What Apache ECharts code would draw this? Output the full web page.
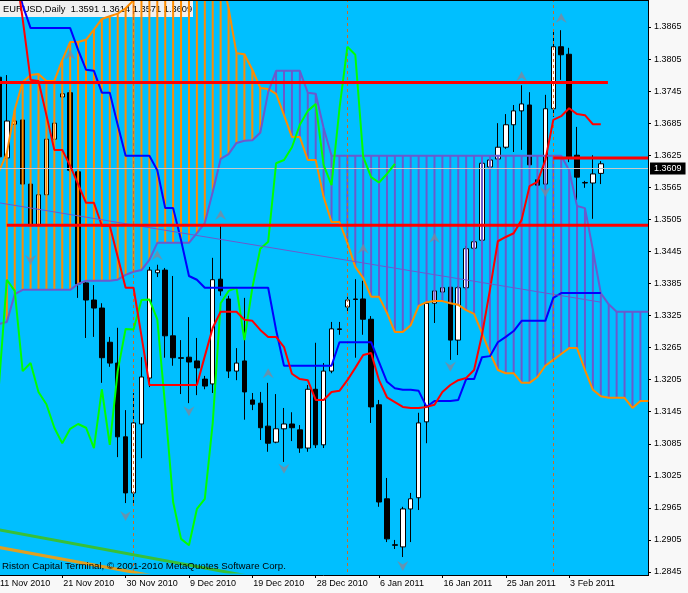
<!DOCTYPE html>
<html>
<head>
<meta charset="utf-8">
<script src="https://cdn.jsdelivr.net/npm/echarts@6/dist/echarts.min.js"></script>
<style>
html,body{margin:0;padding:0;background:#F8F8F8;}
#c{width:688px;height:593px;}
</style>
</head>
<body>
<div id="c"></div>
<script>
// ---- data ----
const symbolName = 'EURUSD,Daily';
const dates = ['11 Nov 2010','12 Nov 2010','14 Nov 2010','15 Nov 2010','16 Nov 2010','17 Nov 2010','18 Nov 2010','19 Nov 2010','21 Nov 2010','22 Nov 2010','23 Nov 2010','24 Nov 2010','25 Nov 2010','26 Nov 2010','28 Nov 2010','29 Nov 2010','30 Nov 2010',
'1 Dec 2010','2 Dec 2010','3 Dec 2010','5 Dec 2010','6 Dec 2010','7 Dec 2010','8 Dec 2010','9 Dec 2010','10 Dec 2010','12 Dec 2010','13 Dec 2010','14 Dec 2010','15 Dec 2010','16 Dec 2010','17 Dec 2010','19 Dec 2010','20 Dec 2010','21 Dec 2010','22 Dec 2010','23 Dec 2010','24 Dec 2010','26 Dec 2010','27 Dec 2010','28 Dec 2010','29 Dec 2010','30 Dec 2010','31 Dec 2010',
'2 Jan 2011','3 Jan 2011','4 Jan 2011','5 Jan 2011','6 Jan 2011','7 Jan 2011','9 Jan 2011','10 Jan 2011','11 Jan 2011','12 Jan 2011','13 Jan 2011','14 Jan 2011','16 Jan 2011','17 Jan 2011','18 Jan 2011','19 Jan 2011','20 Jan 2011','21 Jan 2011','23 Jan 2011','24 Jan 2011','25 Jan 2011','26 Jan 2011','27 Jan 2011','28 Jan 2011','30 Jan 2011','31 Jan 2011',
'1 Feb 2011','2 Feb 2011','3 Feb 2011','4 Feb 2011','6 Feb 2011','7 Feb 2011','8 Feb 2011'];
const dateTickIndex = [0,8,16,24,32,40,48,56,64,72];

const open  = [1.3771,1.3620,1.3683,1.3691,1.3571,1.3493,1.3551,1.3655,1.3734,1.3742,1.3594,1.3386,1.3354,1.3339,1.3275,1.3236,1.3098,1.2993,1.3122,1.3208,1.3405,1.3410,1.3287,1.3246,1.3247,1.3240,1.3206,1.3197,1.3393,1.3356,1.3221,1.3240,1.3167,1.3161,1.3118,1.3088,1.3113,1.3122,1.3111,1.3077,1.3187,1.3083,1.3221,1.3300,1.3341,1.3356,1.3356,1.3318,1.3158,1.2982,1.2896,1.2892,1.2963,1.2984,1.3126,1.3348,1.3369,1.3378,1.3279,1.3377,1.3451,1.3466,1.3603,1.3618,1.3640,1.3682,1.3708,1.3719,1.3579,1.3571,1.3712,1.3828,1.3814,1.3625,1.3573,1.3573,1.3591];
const high  = [1.3785,1.3775,1.3695,1.3697,1.3579,1.3556,1.3661,1.3691,1.3747,1.3747,1.3601,1.3392,1.3382,1.3348,1.3285,1.3302,1.3148,1.3180,1.3247,1.3416,1.3420,1.3414,1.3399,1.3279,1.3322,1.3283,1.3212,1.3433,1.3493,1.3362,1.3264,1.3358,1.3180,1.3182,1.3199,1.3178,1.3152,1.3144,1.3120,1.3195,1.3274,1.3236,1.3313,1.3313,1.3360,1.3393,1.3390,1.3324,1.3167,1.3021,1.2905,1.2967,1.2993,1.3143,1.3354,1.3375,1.3380,1.3384,1.3380,1.3455,1.3466,1.3616,1.3622,1.3685,1.3702,1.3719,1.3756,1.3743,1.3582,1.3738,1.3856,1.3859,1.3826,1.3678,1.3577,1.3625,1.3614];
const low   = [1.3607,1.3616,1.3680,1.3564,1.3487,1.3487,1.3545,1.3652,1.3730,1.3594,1.3358,1.3283,1.3285,1.3199,1.3229,1.3060,1.2974,1.2974,1.3058,1.3191,1.3397,1.3246,1.3231,1.3178,1.3161,1.3176,1.3187,1.3180,1.3362,1.3208,1.3204,1.3130,1.3148,1.3092,1.3070,1.3086,1.3051,1.3090,1.3068,1.3070,1.3077,1.3077,1.3217,1.3289,1.3332,1.3246,1.3289,1.3124,1.2967,1.2901,1.2888,1.2873,1.2901,1.2961,1.3086,1.3311,1.3365,1.3242,1.3251,1.3373,1.3448,1.3463,1.3599,1.3616,1.3637,1.3631,1.3635,1.3603,1.3564,1.3566,1.3697,1.3766,1.3612,1.3541,1.3564,1.3506,1.3571];
const close = [1.3622,1.3689,1.3689,1.3571,1.3493,1.3551,1.3655,1.3685,1.3740,1.3597,1.3384,1.3354,1.3339,1.3246,1.3236,1.3098,1.2993,1.3124,1.3210,1.3410,1.3410,1.3287,1.3246,1.3245,1.3238,1.3227,1.3193,1.3392,1.3371,1.3221,1.3236,1.3182,1.3159,1.3115,1.3086,1.3113,1.3122,1.3115,1.3077,1.3187,1.3083,1.3221,1.3300,1.3299,1.3354,1.3355,1.3318,1.3154,1.2976,1.2907,1.2895,1.2963,1.2982,1.3124,1.3348,1.3371,1.3377,1.3279,1.3377,1.3450,1.3463,1.3610,1.3616,1.3640,1.3682,1.3708,1.3721,1.3607,1.3569,1.3712,1.3828,1.3813,1.3622,1.3584,1.3574,1.3590,1.3609];

// Ichimoku Kinko Hyo
const tenkan = [1.4010,1.3995,1.3985,1.3880,1.3766,1.3764,1.3700,1.3635,1.3635,1.3605,1.3571,1.3536,1.3536,1.3493,1.3493,1.3435,1.3377,1.3377,1.3287,1.3195,1.3195,1.3195,1.3195,1.3195,1.3195,1.3195,1.3249,1.3302,1.3332,1.3332,1.3332,1.3317,1.3315,1.3298,1.3285,1.3285,1.3266,1.3216,1.3206,1.3204,1.3167,1.3167,1.3182,1.3184,1.3204,1.3227,1.3251,1.3255,1.3204,1.3172,1.3163,1.3154,1.3152,1.3152,1.3154,1.3158,1.3182,1.3195,1.3204,1.3208,1.3223,1.3289,1.3373,1.3464,1.3472,1.3479,1.3504,1.3567,1.3575,1.3616,1.3691,1.3698,1.3713,1.3702,1.3700,1.3683,1.3683];
const kijun  = [1.3995,1.3985,1.3960,1.3906,1.3863,1.3863,1.3863,1.3863,1.3863,1.3863,1.3822,1.3785,1.3783,1.3742,1.3742,1.3682,1.3624,1.3624,1.3624,1.3624,1.3597,1.3526,1.3526,1.3466,1.3399,1.3392,1.3377,1.3377,1.3377,1.3377,1.3377,1.3377,1.3377,1.3377,1.3377,1.3298,1.3231,1.3231,1.3231,1.3231,1.3231,1.3231,1.3231,1.3275,1.3275,1.3275,1.3275,1.3275,1.3238,1.3201,1.3189,1.3186,1.3186,1.3184,1.3154,1.3165,1.3165,1.3165,1.3167,1.3206,1.3206,1.3247,1.3249,1.3275,1.3285,1.3296,1.3315,1.3315,1.3315,1.3315,1.3358,1.3367,1.3367,1.3367,1.3367,1.3367,1.3367];
const chikou = [1.3193,1.3392,1.3371,1.3221,1.3236,1.3182,1.3159,1.3115,1.3086,1.3113,1.3122,1.3115,1.3077,1.3187,1.3083,1.3221,1.3300,1.3299,1.3354,1.3355,1.3318,1.3154,1.2976,1.2907,1.2895,1.2963,1.2982,1.3124,1.3348,1.3371,1.3377,1.3279,1.3377,1.3450,1.3463,1.3610,1.3616,1.3640,1.3682,1.3708,1.3721,1.3607,1.3569,1.3712,1.3828,1.3813,1.3622,1.3584,1.3574,1.3590,1.3609];
const spanA  = [1.3594,1.3629,1.3710,1.3762,1.3775,1.3777,1.3764,1.3764,1.3803,1.3837,1.3837,1.3841,1.3860,1.3880,1.3885,1.3890,1.3900,1.3915,1.3960,1.3980,1.3980,1.3980,1.3980,1.3980,1.3980,1.3980,1.3980,1.3980,1.3970,1.3900,1.3816,1.3814,1.3785,1.3751,1.3749,1.3740,1.3700,1.3659,1.3659,1.3616,1.3616,1.3547,1.3500,1.3500,1.3461,1.3416,1.3395,1.3360,1.3360,1.3330,1.3294,1.3294,1.3307,1.3343,1.3350,1.3352,1.3352,1.3348,1.3345,1.3335,1.3328,1.3292,1.3255,1.3223,1.3217,1.3217,1.3199,1.3199,1.3210,1.3231,1.3242,1.3253,1.3264,1.3264,1.3223,1.3186,1.3174,1.3171,1.3171,1.3171,1.3152,1.3165,1.3165];
const spanB  = [1.3309,1.3313,1.3365,1.3373,1.3373,1.3373,1.3373,1.3373,1.3373,1.3373,1.3384,1.3390,1.3390,1.3390,1.3390,1.3392,1.3401,1.3407,1.3410,1.3429,1.3461,1.3461,1.3461,1.3461,1.3461,1.3479,1.3498,1.3556,1.3618,1.3627,1.3648,1.3652,1.3653,1.3667,1.3743,1.3783,1.3783,1.3783,1.3783,1.3742,1.3740,1.3676,1.3624,1.3624,1.3624,1.3624,1.3624,1.3624,1.3624,1.3624,1.3624,1.3624,1.3624,1.3624,1.3624,1.3624,1.3624,1.3624,1.3624,1.3624,1.3624,1.3624,1.3624,1.3624,1.3624,1.3624,1.3624,1.3624,1.3624,1.3624,1.3624,1.3624,1.3597,1.3530,1.3526,1.3448,1.3367,1.3346,1.3332,1.3332,1.3332,1.3332,1.3332];

// drawn objects (bar index / price)
const levelPrice = [1.3761, 1.3494, 1.3620];
const levelFrom  = [-2, 1, 70];
const levelTo    = [76.9, 81.96, 81.96];
const trendIdx   = [0, 76];
const trendPrice = [1.3536, 1.3350];
const chanAIdx   = [0, 30];
const chanAPrice = [1.2891, 1.2809];
const chanBIdx   = [0, 40];
const chanBPrice = [1.2924, 1.2814];
const fracUpIdx   = [9, 20, 28, 34, 46, 55, 66, 71];
const fracUpPrice = [1.3813, 1.3438, 1.3513, 1.3217, 1.3450, 1.3470, 1.3773, 1.3882];
const fracDnIdx   = [4, 16, 24, 36, 51, 57, 69];
const fracDnPrice = [1.3429, 1.2950, 1.3146, 1.3038, 1.2856, 1.3229, 1.3556];
const separatorIdx = [17, 44, 70];
const yMin = 1.2845, yStep = 0.006, yMax = 1.39155;
const xMin = 0, xMax = 81.96;

// ---- chart ----
const FONT = 'Liberation Sans, Arial, sans-serif';
const CYAN = '#00BFFF', ORANGE = '#FF8C00', SLATE = '#6A5ACD';
const last = close.length - 1;
const chart = echarts.init(document.getElementById('c'), null, {renderer: 'canvas', width: 688, height: 593});
const toXY = (arr) => arr.map((v, i) => [i, v]);
const pairs = (xs, ys) => xs.map((x, i) => [x, ys[i]]);

const series = [
  {
    type: 'candlestick', z: 2, silent: true, barWidth: 5,
    data: close.map((c, i) => [i, open[i], c, low[i], high[i]]),
    itemStyle: {color: '#FFFFFF', color0: '#000000', borderColor: '#000000', borderColor0: '#000000', borderWidth: 1}
  },
  {
    type: 'custom', z: 3, silent: true,
    data: spanA.slice(0, 82).map((a, i) => [i, a, spanB[i]]),
    renderItem: (params, api) => {
      const i = api.value(0), a = api.value(1), b = api.value(2);
      const p1 = api.coord([i, a]), p2 = api.coord([i, b]);
      return {type: 'line', shape: {x1: p1[0], y1: p1[1], x2: p2[0], y2: p2[1]},
              style: {stroke: a >= b ? ORANGE : SLATE, lineWidth: 2}};
    }
  },
  {type: 'line', z: 4, silent: true, symbol: 'none', data: toXY(spanA), lineStyle: {color: ORANGE, width: 2}},
  {type: 'line', z: 4, silent: true, symbol: 'none', data: toXY(spanB), lineStyle: {color: SLATE, width: 2}},
  {type: 'line', z: 5, silent: true, symbol: 'none', data: toXY(chikou), lineStyle: {color: '#00FF00', width: 2}},
  {type: 'line', z: 5, silent: true, symbol: 'none', data: toXY(kijun), lineStyle: {color: '#0000FF', width: 2}},
  {type: 'line', z: 5, silent: true, symbol: 'none', data: toXY(tenkan), lineStyle: {color: '#FF0000', width: 2},
    markLine: {
      silent: true, symbol: ['none', 'none'], animation: false,
      data: separatorIdx.map(i => ({xAxis: i, lineStyle: {color: '#D2691E', type: [3, 3], width: 1}, label: {show: false}}))
        .concat([{yAxis: close[last], lineStyle: {color: '#C8C8C8', type: 'solid', width: 1},
          label: {show: true, position: 'end', distance: 2, formatter: () => close[last].toFixed(4),
            backgroundColor: '#000000', color: '#FFFFFF', padding: [2, 4, 1, 4], fontSize: 9, fontFamily: FONT}}])
    }
  },
  {type: 'line', z: 6, silent: true, symbol: 'none', data: pairs(trendIdx, trendPrice), lineStyle: {color: SLATE, width: 1}},
  {type: 'line', z: 6, silent: true, symbol: 'none', data: pairs(chanAIdx, chanAPrice), lineStyle: {color: '#E0A020', width: 3}},
  {type: 'line', z: 6, silent: true, symbol: 'none', data: pairs(chanBIdx, chanBPrice), lineStyle: {color: '#38C038', width: 3}},
  {type: 'scatter', z: 7, silent: true, symbol: 'path://M5,0 L10,10 L5,6.5 L0,10 Z', symbolSize: [11, 10],
    data: pairs(fracUpIdx, fracUpPrice), itemStyle: {color: '#7E889C'}},
  {type: 'scatter', z: 7, silent: true, symbol: 'path://M0,0 L5,3.5 L10,0 L5,10 Z', symbolSize: [11, 10],
    data: pairs(fracDnIdx, fracDnPrice), itemStyle: {color: '#7E889C'}}
];
levelPrice.forEach((p, k) => {
  series.push({type: 'line', z: 6, silent: true, symbol: 'none',
    data: [[levelFrom[k], p], [levelTo[k], p]], lineStyle: {color: '#FF0000', width: 3}});
});

const option = {
  animation: false,
  backgroundColor: '#F8F8F8',
  textStyle: {fontFamily: FONT},
  grid: {left: -1.1, top: 0, width: 649.1, height: 572, show: true, backgroundColor: CYAN, borderWidth: 0,
         containLabel: false, outerBoundsMode: 'none'},
  xAxis: {
    type: 'value', min: xMin, max: xMax, interval: 8, offset: 3,
    axisLine: {show: true, onZero: false, lineStyle: {color: '#000000', width: 1}},
    axisTick: {show: true, length: 3, customValues: dateTickIndex, lineStyle: {color: '#000000'}},
    axisLabel: {show: true, customValues: dateTickIndex, formatter: v => dates[v] || '', align: 'left',
      margin: 4, padding: [0, 0, 0, 1], fontSize: 9, color: '#000000', fontFamily: FONT},
    splitLine: {show: false}
  },
  yAxis: {
    type: 'value', position: 'right', min: yMin, max: yMax, interval: yStep,
    axisLine: {show: true, onZero: false, lineStyle: {color: '#000000', width: 1}},
    axisTick: {show: true, length: 3, lineStyle: {color: '#000000'}},
    axisLabel: {show: true, margin: 6, fontSize: 9, color: '#000000', fontFamily: FONT, showMaxLabel: false,
      formatter: v => { const k = (v - yMin) / yStep; return Math.abs(k - Math.round(k)) < 1e-6 ? v.toFixed(4) : ''; }},
    splitLine: {show: false}
  },
  graphic: [
    {type: 'rect', z: 1, silent: true, shape: {x: 0, y: 572, width: 648, height: 3}, style: {fill: CYAN}},
    {type: 'rect', z: 1, silent: true, shape: {x: 0, y: 1, width: 193, height: 16}, style: {fill: '#F0F0F0'}},
    {type: 'text', z: 1, silent: true, x: 3, y: 9.5,
      style: {text: symbolName + '  ' + [open[last], high[last], low[last], close[last]].map(v => v.toFixed(4)).join(' '),
              fill: '#000000', font: '9.3px ' + FONT, verticalAlign: 'middle'}},
    {type: 'text', z: 20, silent: true, x: 2, y: 566.5,
      style: {text: 'Riston Capital Terminal, \u00A9 2001-2010 MetaQuotes Software Corp.', fill: '#000000',
              font: '9.7px ' + FONT, verticalAlign: 'middle'}},
    {type: 'rect', z: 20, silent: true, shape: {x: 0, y: 0, width: 649, height: 1}, style: {fill: '#000000'}},
    {type: 'rect', z: 20, silent: true, shape: {x: 648, y: 571, width: 1, height: 5}, style: {fill: '#000000'}}
  ],
  series: series
};
chart.setOption(option);
</script>
</body>
</html>
